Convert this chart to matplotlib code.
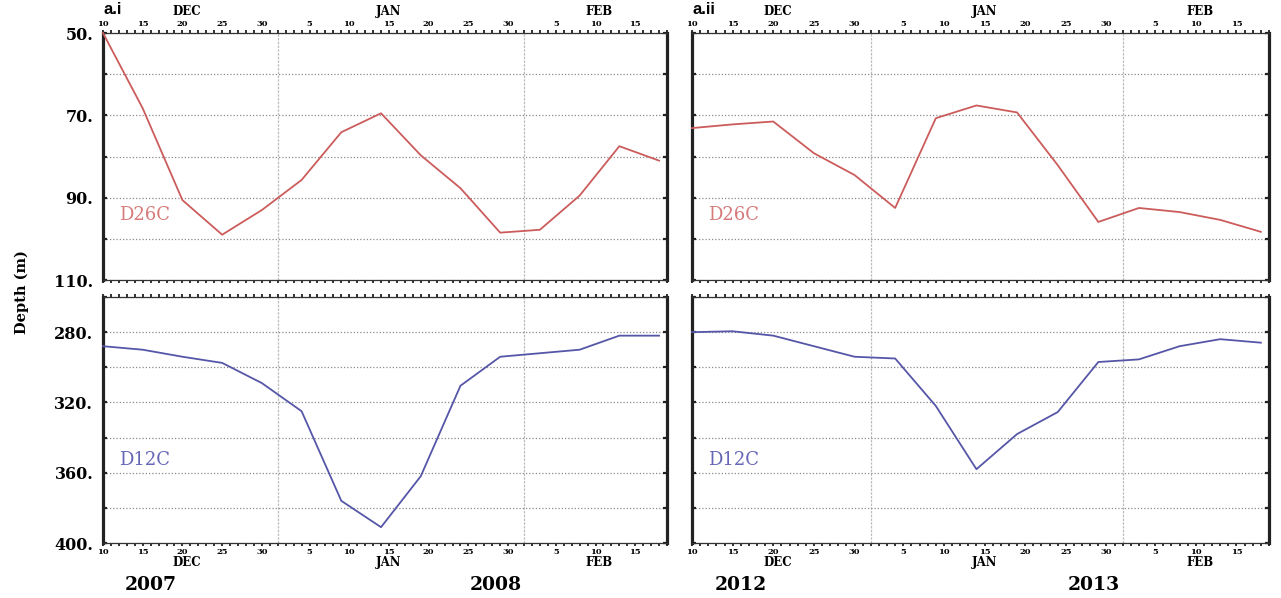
import numpy as np
import matplotlib
matplotlib.use("Agg")
import matplotlib.pyplot as plt
import matplotlib.dates as mdates
from matplotlib.ticker import FuncFormatter, MultipleLocator, FixedLocator

# Pentad dates (day offsets from 10 Dec) shared by both seasons
pentad_offsets = [0, 5, 10, 15, 20, 25, 30, 35, 40, 45, 50, 55, 60, 65, 70]

# Season 2007-08
d26c_2007 = [50, 68.3, 90.6, 99, 93, 85.7, 74.1, 69.5, 79.7, 87.7, 98.5, 97.8, 89.5, 77.5, 81]
d12c_2007 = [288, 290, 294, 297.5, 309, 325, 376, 391, 362, 310.5, 294, 292, 290, 282, 282]

# Season 2012-13
d26c_2012 = [73.1, 72.2, 71.5, 79.2, 84.5, 92.5, 70.7, 67.6, 69.3, 82.1, 95.9, 92.5, 93.5, 95.4, 98.3]
d12c_2012 = [280, 279.5, 282, 288, 294, 295, 322, 358, 338, 325.5, 297, 295.5, 288, 284, 286]

seasons = [("2007", "2008", "a.i", d26c_2007, d12c_2007),
           ("2012", "2013", "a.ii", d26c_2012, d12c_2012)]

top_ylim = (110, 50)
top_yticks = [50, 70, 90, 110]
bot_ylim = (400, 260)
bot_yticks = [280, 320, 360, 400]

RED = "#cc5c5c"
RED_TXT = "#d67a7a"
BLUE = "#5656a8"
BLUE_TXT = "#6666b6"
SERIF = "DejaVu Serif"

fig = plt.figure(figsize=(12.81, 5.98), dpi=100)
W, H = 1281, 598


def frac_box(x0, y0, x1, y1):
    return [x0 / W, 1 - y1 / H, (x1 - x0) / W, (y1 - y0) / H]


panel_x = [(103, 667), (692, 1269)]
top_y = (33, 280)
bot_y = (297, 543)


def day_label(v, pos):
    return str(mdates.num2date(v).day)


def style_axis(ax, start, end, labels_on_top):
    ax.set_xlim(mdates.date2num(start), mdates.date2num(end))
    ax.xaxis.set_major_locator(mdates.DayLocator(bymonthday=[5, 10, 15, 20, 25, 30]))
    ax.xaxis.set_minor_locator(mdates.DayLocator())
    ax.xaxis.set_major_formatter(FuncFormatter(day_label))
    ax.tick_params(axis="x", which="both", top=True, bottom=True,
                   labeltop=labels_on_top, labelbottom=not labels_on_top,
                   direction="out", length=2.0, width=1.3, color="#222222",
                   pad=1.5, labelsize=6)
    for lab in ax.get_xticklabels():
        lab.set_fontweight("bold")
        lab.set_family(SERIF)
    for side in ("left", "right"):
        ax.spines[side].set_linewidth(2.3)
        ax.spines[side].set_color("#222222")
    for side in ("top", "bottom"):
        ax.spines[side].set_linewidth(0.9)
        ax.spines[side].set_color("#333333")
    # month boundaries
    yr = end.astype(object).year
    for m in (np.datetime64(f"{yr}-01-01"), np.datetime64(f"{yr}-02-01")):
        ax.axvline(mdates.date2num(m), color="#bdbdbd", lw=0.9, ls=(0, (2, 1)), zorder=1)


for col, (y0, y1, tag, d26, d12) in enumerate(seasons):
    start = np.datetime64(f"{y0}-12-10")
    end = np.datetime64(f"{y1}-02-19")
    dates = [mdates.date2num(start + np.timedelta64(o, "D")) for o in pentad_offsets]
    xa, xb = panel_x[col]

    ax_t = fig.add_axes(frac_box(xa, top_y[0], xb, top_y[1]))
    ax_b = fig.add_axes(frac_box(xa, bot_y[0], xb, bot_y[1]))

    for ax, ylim, yticks, minor in ((ax_t, top_ylim, top_yticks, 10),
                                   (ax_b, bot_ylim, bot_yticks, 20)):
        ax.set_ylim(*ylim)
        ax.yaxis.set_major_locator(FixedLocator(yticks))
        ax.yaxis.set_minor_locator(MultipleLocator(minor))
        ax.grid(True, axis="y", which="both", color="#8c8c8c", lw=0.9,
                ls=(0, (1, 1.6)), zorder=1)
        ax.tick_params(axis="y", which="both", left=True, right=True,
                       direction="in", length=3, width=1.6, color="#222222",
                       labelleft=(col == 0), labelsize=11.5, pad=7)
        ax.yaxis.set_major_formatter(FuncFormatter(lambda v, p: f"{int(v)}."))
        for lab in ax.get_yticklabels():
            lab.set_fontweight("bold")
            lab.set_family(SERIF)

    style_axis(ax_t, start, end, labels_on_top=True)
    style_axis(ax_b, start, end, labels_on_top=False)

    ax_t.plot(dates, d26, color=RED, lw=1.3, zorder=3, clip_on=False)
    ax_b.plot(dates, d12, color=BLUE, lw=1.3, zorder=3, clip_on=False)

    ax_t.text(mdates.date2num(start + np.timedelta64(2, "D")), 94.2, "D26C",
              color=RED_TXT, fontsize=13, family=SERIF, va="center", ha="left")
    ax_b.text(mdates.date2num(start + np.timedelta64(2, "D")), 352.5, "D12C",
              color=BLUE_TXT, fontsize=13, family=SERIF, va="center", ha="left")

    # month labels above the top panel and below the bottom panel
    months = [("DEC", f"{y0}-12-20T12"), ("JAN", f"{y1}-01-15"), ("FEB", f"{y1}-02-10T12")]
    for name, d in months:
        xv = mdates.date2num(np.datetime64(d))
        ax_t.text(xv, 1.087, name, transform=ax_t.get_xaxis_transform(),
                  ha="center", va="center", fontsize=8.5, fontweight="bold", family=SERIF)
        ax_b.text(xv, -0.078, name, transform=ax_b.get_xaxis_transform(),
                  ha="center", va="center", fontsize=8.5, fontweight="bold", family=SERIF)

    ax_t.text(0.0, 1.095, tag, transform=ax_t.transAxes, ha="left", va="center",
              fontsize=12, fontweight="bold", family="Liberation Sans")

    ax_b.text(mdates.date2num(np.datetime64(f"{y0}-12-16")), -0.172, y0,
              transform=ax_b.get_xaxis_transform(), ha="center", va="center",
              fontsize=13.5, fontweight="bold", family=SERIF)
    ax_b.text(mdates.date2num(np.datetime64(f"{y1}-01-28T12")), -0.172, y1,
              transform=ax_b.get_xaxis_transform(), ha="center", va="center",
              fontsize=13.5, fontweight="bold", family=SERIF)

fig.text(22 / W, 1 - 292 / H, "Depth (m)", rotation=90, ha="center", va="center",
         fontsize=10.5, fontweight="bold", family=SERIF)

fig.savefig("out.png", dpi=100)
